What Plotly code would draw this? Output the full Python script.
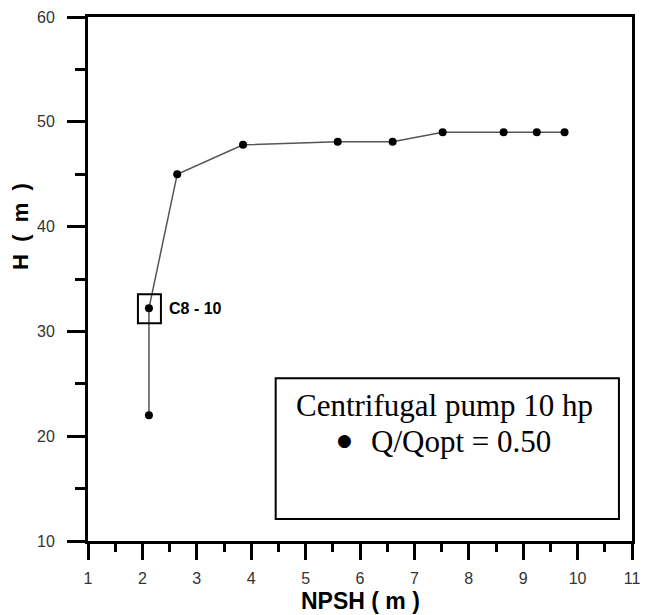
import plotly.graph_objects as go

# NPSH test data, centrifugal pump 10 hp, Q/Qopt = 0.50
npsh = [2.12, 2.12, 2.64, 3.85, 5.59, 6.60, 7.52, 8.64, 9.25, 9.76]
head = [22.0, 32.2, 45.0, 47.8, 48.1, 48.1, 49.0, 49.0, 49.0, 49.0]

x_ticks = list(range(1, 12))
y_ticks = [10, 20, 30, 40, 50, 60]

marked_idx = 1  # point flagged as C8 - 10

fig = go.Figure()
fig.add_trace(go.Scatter(
    x=npsh, y=head, mode="lines+markers",
    line=dict(color="#555555", width=1.5),
    marker=dict(color="black", size=8),
    showlegend=False,
))

axis_common = dict(
    showgrid=False, zeroline=False,
    showline=True, linecolor="black", linewidth=3, mirror=True,
    ticks="outside", tickcolor="black", tickwidth=3,
    tickfont=dict(family="Liberation Sans, Arial", size=16, color="#333333"),
)

fig.update_xaxes(
    range=[1, 11], tickvals=x_ticks, ticklen=16,
    minor=dict(dtick=0.5, ticks="outside", ticklen=8, tickwidth=3, tickcolor="black"),
    ticklabelstandoff=5,
    **axis_common,
)
fig.update_yaxes(
    range=[10, 60], tickvals=y_ticks, ticklen=18,
    minor=dict(dtick=5, ticks="outside", ticklen=10, tickwidth=3, tickcolor="black"),
    ticklabelstandoff=9,
    **axis_common,
)

# highlight box around the flagged point
fig.add_shape(
    type="rect", xref="x", yref="y",
    xsizemode="pixel", ysizemode="pixel",
    xanchor=npsh[marked_idx], yanchor=head[marked_idx],
    x0=-11, x1=12, y0=-15, y1=14,
    line=dict(color="black", width=2),
)
fig.add_annotation(
    x=npsh[marked_idx], y=head[marked_idx], xref="x", yref="y",
    text="<b>C8 - 10</b>", showarrow=False, xanchor="left", yanchor="middle",
    xshift=18, font=dict(family="Liberation Sans, Arial", size=16, color="black"),
)

# legend box
fig.add_shape(
    type="rect", xref="paper", yref="paper",
    x0=0.345, x1=0.976, y0=0.042, y1=0.3105,
    line=dict(color="black", width=2), fillcolor="white", layer="below",
)
fig.add_annotation(
    x=0.655, y=0.258, xref="paper", yref="paper",
    text="Centrifugal pump 10 hp", showarrow=False,
    xanchor="center", yanchor="middle",
    font=dict(family="Liberation Serif, Times New Roman", size=31, color="black"),
)
fig.add_annotation(
    x=(348 - 88) / 552, y=(541 - 440) / 524, xref="paper", yref="paper",
    text="●", showarrow=False, xanchor="center", yanchor="middle",
    font=dict(family="DejaVu Sans", size=17, color="black"),
)
fig.add_annotation(
    x=(373 - 88) / 552, y=0.19, xref="paper", yref="paper",
    text="Q/Qopt = 0.50", showarrow=False,
    xanchor="left", yanchor="middle",
    font=dict(family="Liberation Serif, Times New Roman", size=31, color="black"),
)

# axis titles
fig.add_annotation(
    x=(364 - 88) / 552, y=(541 - 601) / 524, xref="paper", yref="paper",
    text="<b>NPSH ( m )</b>", showarrow=False, xanchor="center", yanchor="middle",
    font=dict(family="Liberation Sans, Arial", size=23, color="black"),
)
fig.add_annotation(
    x=(20 - 88) / 552, y=(541 - 226) / 524, xref="paper", yref="paper",
    text="<b>H  (  m  )</b>", showarrow=False, textangle=-90,
    xanchor="center", yanchor="middle",
    font=dict(family="Liberation Sans, Arial", size=22, color="black"),
)

fig.update_layout(
    width=649, height=615,
    margin=dict(l=88, r=9, t=17, b=74),
    paper_bgcolor="white", plot_bgcolor="white",
)

fig.write_html("out.html")
